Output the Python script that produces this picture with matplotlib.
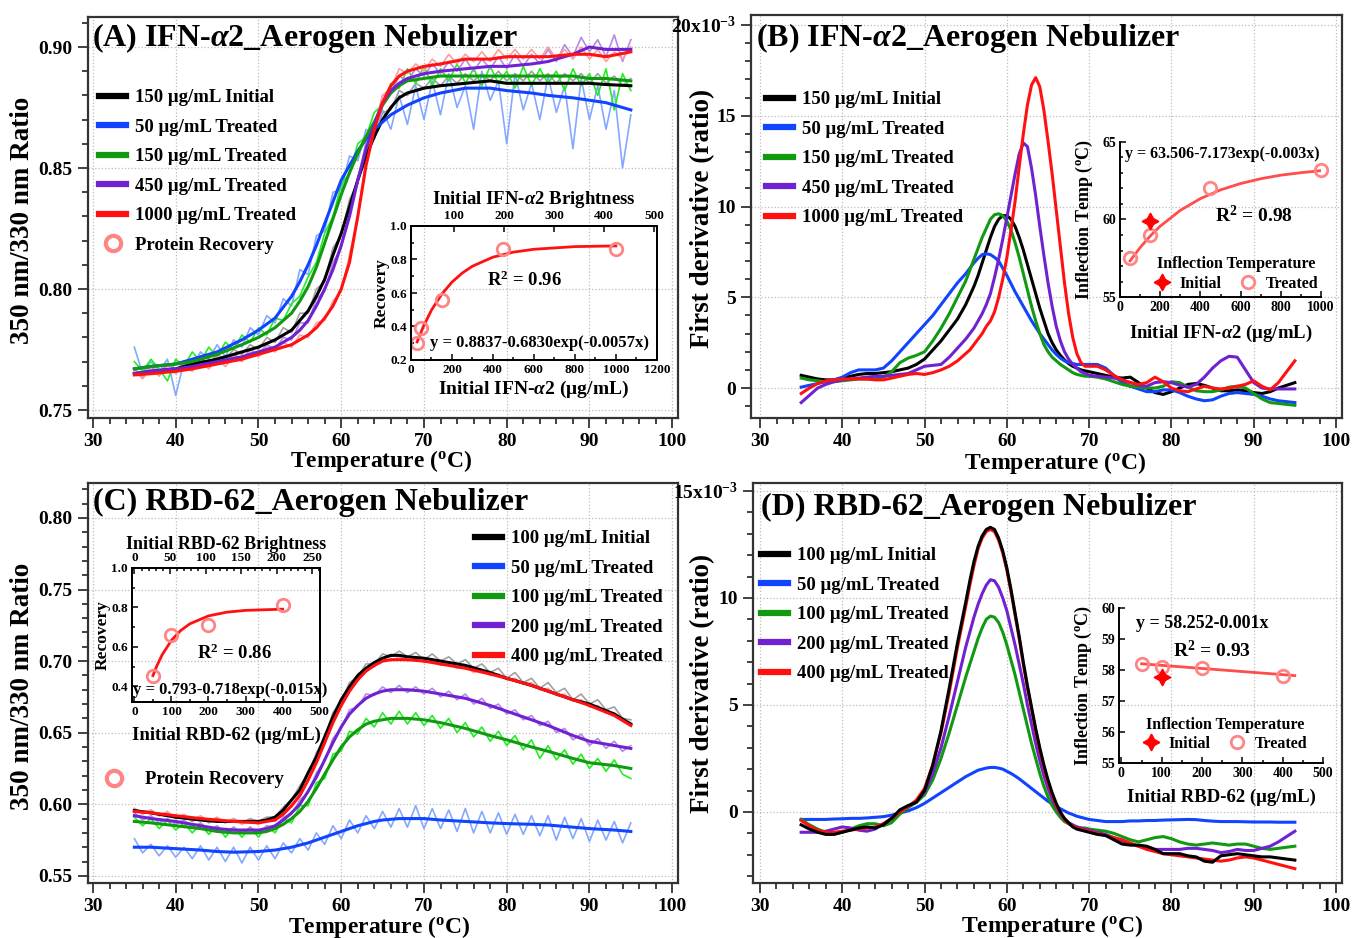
import numpy as np
import matplotlib
matplotlib.use("Agg")
import matplotlib.pyplot as plt
from matplotlib.lines import Line2D
from matplotlib.ticker import MultipleLocator

plt.rcParams["font.family"] = ["Liberation Serif", "DejaVu Serif"]
plt.rcParams["font.weight"] = "bold"
plt.rcParams["axes.labelweight"] = "bold"
plt.rcParams["mathtext.fontset"] = "custom"
plt.rcParams["mathtext.rm"] = "Liberation Serif:bold"
plt.rcParams["mathtext.it"] = "Liberation Serif:italic:bold"
plt.rcParams["mathtext.bf"] = "Liberation Serif:bold"

# ---------------------------------------------------------------- data
# temperature grids (degC)
t_raw = np.arange(35, 96)
t_ratio_a = [35, 37, 40, 42, 45, 48, 50, 52, 54, 55, 56, 57, 58, 59, 60, 61, 62,
             63, 64, 65, 66, 67, 68, 70, 72, 75, 78, 80, 83, 85, 88, 90, 92, 95]
t_ratio_c = [35, 37, 40, 43, 45, 47, 50, 51, 52, 53, 54, 55, 56, 57, 58, 59, 60, 61,
             62, 63, 64, 65, 66, 67, 68, 70, 72, 75, 78, 80, 83, 85, 88, 90, 93, 95]
t_deriv = np.concatenate([np.arange(35, 55), np.arange(55, 70.5, 0.5), np.arange(71, 96)])

labels_a = ["150 μg/mL Initial", "50 μg/mL Treated", "150 μg/mL Treated",
            "450 μg/mL Treated", "1000 μg/mL Treated"]
labels_c = ["100 μg/mL Initial", "50 μg/mL Treated", "100 μg/mL Treated",
            "200 μg/mL Treated", "400 μg/mL Treated"]

# (A) IFN-a2 350/330 ratio, smoothed
a_black = [.765, .766, .767, .769, .771, .774, .776, .779, .783,
           .787, .791, .797, .804, .814, .823, .834, .845, .855, .863, .870, .875, .879, .881,
           .883, .884, .885, .886, .885, .885, .885, .885, .885, .8845, .884]
a_blue = [.767, .768, .769, .771, .774, .779, .783, .788, .797,
          .803, .810, .818, .827, .836, .845, .851, .857, .862, .866, .869, .872, .874, .876,
          .879, .881, .883, .883, .882, .881, .880, .879, .878, .877, .874]
a_green = [.767, .768, .769, .770, .773, .777, .780, .784, .790,
           .795, .801, .809, .819, .829, .839, .848, .856, .863, .869, .876, .881, .884, .886,
           .887, .888, .888, .888, .888, .888, .888, .888, .887, .887, .886]
a_purple = [.765, .766, .767, .768, .770, .772, .774, .776, .780,
            .783, .787, .793, .800, .808, .818, .830, .845, .858, .868, .877, .882, .885, .887,
            .889, .890, .891, .892, .892, .893, .894, .897, .900, .899, .899]
a_red = [.7645, .765, .766, .767, .769, .771, .773, .775, .777,
         .779, .781, .784, .788, .793, .800, .811, .830, .851, .866, .877, .884, .888, .890,
         .892, .893, .895, .895, .896, .896, .896, .897, .897, .896, .898]

# (A) raw traces, 35..95 degC
a_gray_raw = [.767, .763, .768, .765, .769, .766, .770, .768, .772, .769,
              .773, .771, .775, .773, .777, .775, .780, .778, .784, .782,
              .790, .790, .800, .803, .817, .822, .837, .844, .858, .862,
              .873, .874, .882, .880, .885, .883, .887, .884, .888, .885,
              .889, .886, .889, .886, .890, .886, .889, .886, .890, .886,
              .889, .885, .889, .886, .889, .885, .889, .885, .888, .884, .887]
a_blue_raw = [.776, .765, .770, .766, .771, .756, .770, .768, .774, .771,
              .777, .772, .779, .776, .784, .781, .789, .786, .796, .793,
              .808, .806, .822, .824, .840, .841, .855, .853, .866, .862,
              .874, .866, .880, .868, .884, .870, .886, .872, .889, .875,
              .884, .866, .890, .878, .886, .860, .889, .874, .885, .870,
              .888, .873, .884, .858, .887, .870, .884, .866, .882, .850, .872]
a_green_raw = [.770, .766, .771, .767, .762, .771, .768, .774, .770, .776,
               .772, .778, .775, .781, .778, .784, .781, .788, .787, .794,
               .797, .805, .811, .823, .830, .843, .848, .860, .863, .873,
               .876, .885, .883, .891, .885, .892, .884, .891, .886, .893,
               .885, .891, .884, .892, .885, .890, .883, .892, .884, .891,
               .885, .890, .882, .891, .884, .889, .880, .891, .874, .889, .882]
a_purple_raw = [.767, .764, .768, .765, .769, .766, .769, .767, .771, .768,
                .772, .770, .773, .771, .775, .773, .777, .775, .780, .779,
                .786, .786, .796, .799, .811, .817, .833, .844, .861, .867,
                .880, .881, .888, .886, .891, .888, .893, .889, .894, .890,
                .895, .890, .895, .891, .896, .891, .897, .892, .897, .893,
                .899, .894, .901, .896, .904, .898, .903, .896, .905, .894, .903]
a_red_raw = [.766, .763, .767, .764, .768, .765, .768, .766, .770, .767,
             .771, .768, .772, .770, .774, .772, .776, .774, .778, .776,
             .781, .780, .786, .787, .795, .799, .814, .829, .854, .865,
             .880, .883, .891, .889, .893, .890, .895, .892, .897, .893,
             .897, .894, .898, .894, .899, .895, .899, .895, .899, .895,
             .900, .895, .899, .895, .900, .895, .899, .894, .898, .895, .900]

# (A) inset: protein recovery
rec_a_x = [30, 50, 150, 450, 1000]
rec_a_y = [0.30, 0.39, 0.56, 0.865, 0.865]
fit_a_x = [30, 60, 100, 150, 200, 250, 300, 400, 500, 600, 800, 1000]
fit_a_y = [0.308, 0.399, 0.498, 0.593, 0.665, 0.719, 0.760, 0.814, 0.844, 0.861, 0.877, 0.881]

# (B) IFN-a2 first derivative (x1e-3)
b_black = [0.7, 0.6, 0.5, 0.45, 0.45, 0.55, 0.65, 0.75, 0.8, 0.8, 0.85, 0.9, 1.0, 1.1, 1.3, 1.6, 2.1, 2.6, 3.2, 3.8,
           4.6, 5.1, 5.6, 6.2, 6.9, 7.6, 8.3, 8.9, 9.3, 9.5, 9.5, 9.3, 8.9, 8.3, 7.6, 6.8, 6.0, 5.2, 4.4, 3.7,
           3.0, 2.5, 2.1, 1.8, 1.55, 1.35, 1.2, 1.1, 1.0, 0.95, 0.9,
           0.8, 0.7, 0.6, 0.55, 0.6, 0.3, 0.0, -0.25, -0.35, -0.2, 0.0, 0.2, 0.25, 0.15, 0.0, -0.15, -0.15,
           -0.1, -0.15, -0.25, -0.3, -0.2, 0.0, 0.15, 0.3]
b_blue = [0.05, 0.15, 0.25, 0.35, 0.45, 0.6, 0.85, 1.0, 1.0, 1.0, 1.1, 1.5, 2.0, 2.5, 3.0, 3.5, 4.0, 4.6, 5.2, 5.8,
          6.3, 6.6, 6.9, 7.15, 7.35, 7.4, 7.35, 7.2, 7.0, 6.6, 6.2, 5.75, 5.3, 4.9, 4.5, 4.1, 3.7, 3.35, 3.0, 2.7,
          2.4, 2.1, 1.85, 1.65, 1.5, 1.4, 1.35, 1.3, 1.3, 1.3, 1.3,
          1.3, 1.1, 0.7, 0.3, 0.1, -0.05, -0.2, -0.2, -0.1, -0.1, -0.25, -0.45, -0.6, -0.7, -0.65, -0.45, -0.3,
          -0.25, -0.3, -0.35, -0.45, -0.6, -0.7, -0.75, -0.8]
b_green = [0.55, 0.45, 0.4, 0.35, 0.35, 0.4, 0.45, 0.5, 0.5, 0.5, 0.6, 0.9, 1.4, 1.65, 1.8, 2.0, 2.6, 3.3, 4.1, 5.0,
           5.9, 6.5, 7.1, 7.7, 8.3, 8.8, 9.3, 9.55, 9.6, 9.5, 9.2, 8.7, 8.0, 7.2, 6.3, 5.4, 4.5, 3.7, 3.0, 2.4,
           2.0, 1.7, 1.5, 1.3, 1.15, 1.0, 0.85, 0.75, 0.7, 0.65, 0.65,
           0.6, 0.5, 0.35, 0.2, 0.1, 0.05, 0.0, 0.0, 0.1, 0.35, 0.3, 0.05, -0.15, -0.2, -0.2, -0.1, 0.05,
           0.1, 0.0, -0.3, -0.6, -0.8, -0.85, -0.9, -0.95]
b_purple = [-0.8, -0.4, 0.0, 0.2, 0.35, 0.45, 0.5, 0.55, 0.6, 0.65, 0.65, 0.7, 0.75, 0.8, 1.0, 1.2, 1.25, 1.3, 1.7, 2.2,
            2.7, 3.0, 3.3, 3.7, 4.1, 4.6, 5.2, 6.1, 7.1, 8.2, 9.4, 10.6, 11.8, 12.9, 13.5, 13.3, 12.1, 10.6, 8.9, 7.3,
            5.8, 4.5, 3.4, 2.6, 2.0, 1.6, 1.3, 1.1, 0.9, 0.8, 0.7,
            0.65, 0.6, 0.55, 0.45, 0.3, 0.15, 0.1, 0.3, 0.35, 0.3, 0.15, 0.05, 0.2, 0.6, 1.1, 1.5, 1.75,
            1.7, 1.0, 0.3, 0.0, -0.05, -0.05, -0.05, -0.05]
b_red = [-0.3, 0.0, 0.25, 0.4, 0.45, 0.5, 0.5, 0.5, 0.5, 0.45, 0.45, 0.55, 0.65, 0.75, 0.8, 0.75, 0.85, 1.0, 1.2, 1.5,
         1.9, 2.1, 2.4, 2.7, 3.0, 3.4, 3.7, 4.2, 5.0, 6.0, 7.2, 8.7, 10.3, 12.2, 14.0, 15.6, 16.7, 17.1, 16.6, 15.3,
         13.6, 11.8, 9.8, 7.8, 5.8, 4.1, 2.8, 1.9, 1.4, 1.2, 1.2,
         1.2, 1.0, 0.7, 0.45, 0.3, 0.2, 0.3, 0.6, 0.35, 0.0, -0.15, -0.2, -0.05, 0.1, 0.0, -0.05, 0.0,
         0.1, 0.2, 0.4, 0.1, -0.1, 0.3, 0.9, 1.5]

# (B) inset: inflection temperature
tm_b_x = [50, 150, 450, 1000]
tm_b_y = [57.5, 59.0, 62.0, 63.2]
tm_b_init_x = [150]
tm_b_init_y = [59.9]
fit_b_x = [50, 100, 150, 200, 300, 400, 500, 600, 700, 800, 900, 1000]
fit_b_y = [57.33, 58.19, 58.93, 59.57, 60.59, 61.35, 61.91, 62.32, 62.63, 62.86, 63.02, 63.15]

# (C) RBD-62 350/330 ratio, smoothed
c_black = [.5956, .594, .591, .589, .588, .588, .588,
           .589, .591, .596, .603, .610, .622, .633, .647, .661, .673, .682, .690, .695, .699, .702, .704, .704, .703,
           .702, .700, .697, .692, .688, .683, .679, .673, .670, .663, .656]
c_blue = [.570, .570, .569, .568, .567, .5665, .567,
          .5675, .568, .569, .570, .5715, .573, .575, .577, .579, .581, .583, .585, .5865, .588, .589, .5895, .590, .590,
          .590, .589, .588, .587, .5865, .586, .5855, .584, .583, .582, .581]
c_green = [.588, .587, .585, .583, .581, .580, .580,
           .581, .583, .586, .590, .595, .602, .611, .621, .631, .640, .647, .652, .656, .658, .659, .660, .660, .660,
           .659, .657, .653, .648, .645, .640, .637, .632, .629, .627, .625]
c_purple = [.592, .590, .588, .585, .583, .582, .582,
            .583, .585, .589, .594, .600, .609, .619, .631, .643, .654, .663, .669, .674, .677, .679, .680, .680, .680,
            .679, .677, .674, .669, .665, .659, .655, .648, .644, .641, .639]
c_red = [.595, .594, .592, .590, .589, .588, .587,
         .588, .589, .593, .599, .606, .617, .629, .643, .657, .669, .679, .687, .693, .697, .700, .701, .701, .701,
         .700, .698, .695, .691, .688, .683, .679, .673, .669, .662, .655]

# (C) raw traces, 35..95 degC
c_gray_raw = [.597, .594, .596, .592, .594, .590, .592, .588, .591, .587,
              .590, .587, .590, .587, .590, .588, .591, .591, .598, .603,
              .613, .621, .636, .646, .664, .672, .685, .689, .698, .698,
              .705, .703, .707, .703, .706, .701, .705, .700, .703, .698,
              .701, .695, .698, .692, .695, .688, .692, .685, .688, .681,
              .685, .678, .681, .673, .677, .670, .673, .666, .668, .660, .659]
c_blue_raw = [.576, .566, .572, .564, .571, .563, .570, .562, .571, .561,
              .570, .560, .570, .559, .570, .561, .571, .562, .573, .566,
              .576, .568, .580, .572, .585, .576, .589, .580, .592, .583,
              .595, .584, .597, .584, .599, .583, .597, .583, .596, .581,
              .597, .580, .595, .580, .594, .579, .593, .579, .592, .578,
              .592, .575, .591, .576, .590, .574, .589, .575, .588, .573, .587]
c_green_raw = [.591, .585, .590, .583, .589, .582, .587, .580, .586, .579,
               .585, .577, .584, .577, .584, .577, .585, .580, .590, .587,
               .599, .599, .615, .618, .635, .637, .651, .649, .660, .654,
               .664, .656, .665, .656, .664, .655, .662, .653, .660, .650,
               .657, .647, .654, .644, .651, .641, .648, .638, .645, .632,
               .641, .631, .638, .628, .635, .625, .632, .623, .631, .621, .618]
c_purple_raw = [.594, .589, .592, .587, .590, .586, .589, .584, .587, .582,
                .585, .580, .584, .580, .584, .580, .585, .584, .591, .593,
                .603, .608, .622, .630, .646, .653, .666, .668, .677, .676,
                .682, .678, .683, .678, .682, .677, .681, .675, .679, .673,
                .677, .670, .674, .667, .670, .663, .666, .659, .662, .655,
                .658, .650, .653, .645, .649, .641, .646, .639, .644, .637, .641]
c_red_raw = [.597, .593, .596, .592, .595, .590, .593, .589, .592, .588,
             .591, .587, .590, .586, .589, .586, .590, .588, .595, .598,
             .608, .616, .631, .642, .659, .668, .681, .686, .695, .696,
             .702, .700, .703, .700, .702, .699, .701, .697, .699, .695,
             .697, .692, .694, .690, .691, .687, .688, .684, .685, .680,
             .681, .676, .677, .672, .673, .668, .669, .664, .664, .658, .657]

# (C) inset: protein recovery
rec_c_x = [50, 100, 200, 400]
rec_c_y = [0.45, 0.66, 0.71, 0.81]
fit_c_x = [50, 60, 75, 100, 125, 150, 200, 250, 300, 400]
fit_c_y = [0.454, 0.501, 0.560, 0.633, 0.683, 0.717, 0.757, 0.776, 0.785, 0.791]

# (D) RBD-62 first derivative (x1e-3)
d_black = [-0.6, -0.8, -0.95, -1.05, -1.05, -0.95, -0.85, -0.75, -0.7, -0.75, -0.6, -0.3, 0.1, 0.3, 0.45, 1.0, 2.2, 3.8, 5.8, 7.9,
           9.8, 10.8, 11.7, 12.4, 12.9, 13.2, 13.3, 13.2, 12.8, 12.2, 11.4, 10.4, 9.3, 8.2, 7.0, 5.9, 4.9, 3.9, 3.0, 2.2,
           1.5, 0.9, 0.4, 0.0, -0.3, -0.5, -0.7, -0.8, -0.85, -0.9, -0.95,
           -1.05, -1.1, -1.3, -1.5, -1.55, -1.55, -1.6, -1.75, -1.95, -1.95, -1.95, -2.05, -2.1, -2.3, -2.35, -2.05,
           -2.0, -1.95, -2.0, -2.05, -2.1, -2.1, -2.15, -2.2, -2.25]
d_blue = [-0.35, -0.35, -0.35, -0.35, -0.33, -0.32, -0.3, -0.3, -0.28, -0.25, -0.22, -0.15, -0.05, 0.05, 0.2, 0.4, 0.65, 0.9, 1.15, 1.4,
          1.65, 1.75, 1.85, 1.95, 2.0, 2.05, 2.08, 2.08, 2.05, 2.0, 1.9, 1.8, 1.68, 1.55, 1.4, 1.25, 1.1, 0.95, 0.8, 0.65,
          0.5, 0.38, 0.25, 0.15, 0.05, -0.05, -0.12, -0.2, -0.25, -0.3, -0.35,
          -0.4, -0.45, -0.45, -0.45, -0.42, -0.42, -0.4, -0.4, -0.38, -0.37, -0.36, -0.35, -0.36, -0.4, -0.43, -0.45,
          -0.45, -0.45, -0.46, -0.47, -0.47, -0.47, -0.48, -0.48, -0.48]
d_green = [-0.35, -0.6, -0.8, -0.95, -1.0, -0.95, -0.8, -0.65, -0.55, -0.55, -0.65, -0.5, -0.1, 0.2, 0.45, 0.8, 1.5, 2.5, 3.7, 5.0,
           6.3, 6.9, 7.5, 8.1, 8.6, 9.0, 9.15, 9.1, 8.85, 8.4, 7.8, 7.1, 6.4, 5.6, 4.8, 4.0, 3.2, 2.5, 1.8, 1.2,
           0.7, 0.3, 0.0, -0.25, -0.45, -0.55, -0.65, -0.7, -0.75, -0.75, -0.8,
           -0.85, -0.9, -1.0, -1.15, -1.3, -1.4, -1.3, -1.2, -1.15, -1.25, -1.4, -1.5, -1.55, -1.5, -1.45, -1.5,
           -1.55, -1.5, -1.5, -1.6, -1.7, -1.75, -1.7, -1.65, -1.6]
d_purple = [-0.95, -0.95, -0.95, -0.9, -0.8, -0.7, -0.75, -0.85, -0.9, -0.8, -0.55, -0.3, 0.0, 0.25, 0.5, 0.9, 1.8, 3.0, 4.5, 6.1,
            7.7, 8.4, 9.1, 9.7, 10.2, 10.6, 10.85, 10.8, 10.5, 10.0, 9.4, 8.6, 7.8, 6.9, 6.0, 5.0, 4.1, 3.2, 2.4, 1.7,
            1.1, 0.6, 0.2, -0.1, -0.35, -0.5, -0.6, -0.7, -0.75, -0.8, -0.85,
            -0.95, -1.05, -1.2, -1.35, -1.5, -1.6, -1.7, -1.75, -1.75, -1.75, -1.75, -1.7, -1.7, -1.75, -1.8, -1.9,
            -1.85, -1.75, -1.8, -1.8, -1.7, -1.6, -1.4, -1.15, -0.9]
d_red = [-0.4, -0.65, -0.85, -0.95, -0.95, -0.9, -0.85, -0.8, -0.75, -0.7, -0.55, -0.3, 0.0, 0.25, 0.55, 1.1, 2.2, 3.7, 5.6, 7.7,
         9.6, 10.6, 11.5, 12.3, 12.8, 13.1, 13.2, 13.1, 12.7, 12.1, 11.3, 10.3, 9.2, 8.1, 6.9, 5.8, 4.8, 3.8, 2.9, 2.1,
         1.4, 0.8, 0.3, -0.05, -0.35, -0.55, -0.65, -0.75, -0.8, -0.85, -0.9,
         -1.0, -1.1, -1.2, -1.3, -1.45, -1.6, -1.75, -1.85, -1.95, -2.0, -2.05, -2.1, -2.15, -2.2, -2.25, -2.3,
         -2.25, -2.15, -2.1, -2.15, -2.25, -2.35, -2.45, -2.55, -2.65]

# (D) inset: inflection temperature
tm_d_x = [50, 100, 200, 400]
tm_d_y = [58.2, 58.1, 58.08, 57.8]
tm_d_init_x = [100]
tm_d_init_y = [57.78]
fit_d_x = [50, 430]
fit_d_y = [58.20, 57.82]

# ---------------------------------------------------------------- style
BLACK, BLUE, GREEN, PURPLE, RED = "#000000", "#1144ff", "#119911", "#7022d0", "#ff1111"
GRAY, LBLUE, LGREEN, LPURPLE, LRED = "#a0a0a0", "#84a8ff", "#22ee22", "#b48ae6", "#ff9c9c"
PINK = "#ff8585"
FIT_RED = "#ff4d4d"
main_colors = [BLACK, BLUE, GREEN, PURPLE, RED]

W, H = 1352, 938
fig = plt.figure(figsize=(W / 100, H / 100), dpi=100)


def box(left, top, right, bottom):
    return [left / W, 1 - bottom / H, (right - left) / W, (bottom - top) / H]


def ftext(x, y, s, **kw):
    fig.text(x / W, 1 - y / H, s, **kw)


def style_main(ax, xlim, ylim, yticks, ylabels, yminor):
    ax.set_xlim(xlim)
    ax.set_ylim(ylim)
    ax.set_xticks(np.arange(30, 101, 10))
    ax.xaxis.set_minor_locator(MultipleLocator(2))
    ax.set_yticks(yticks)
    ax.set_yticklabels(ylabels)
    ax.yaxis.set_minor_locator(MultipleLocator(yminor))
    ax.tick_params(which="both", direction="out", width=1.3, color="#333333", labelsize=14)
    ax.tick_params(which="major", length=7, pad=4)
    ax.tick_params(which="minor", length=4)
    ax.grid(True, which="major", ls=":", lw=0.9, color="#bdbdbd")
    ax.set_axisbelow(True)
    for sp in ax.spines.values():
        sp.set_linewidth(1.6)
        sp.set_color("#333333")


def style_inset(ax, full_box=True):
    ax.set_facecolor("none")
    ax.tick_params(which="both", direction="in", width=1.1, labelsize=9.5)
    ax.tick_params(which="major", length=4, pad=3)
    ax.tick_params(which="minor", length=2.5)
    for sp in ax.spines.values():
        sp.set_linewidth(1.4)
    if not full_box:
        ax.spines["top"].set_visible(False)
        ax.spines["right"].set_visible(False)


def main_legend(ax, labels, x, y, extra=None):
    handles = [Line2D([], [], color=c, lw=4.5) for c in main_colors]
    labs = list(labels)
    if extra is not None:
        handles.append(extra)
        labs.append("Protein Recovery")
    leg = ax.legend(handles, labs, loc="upper left", bbox_to_anchor=(x / W, 1 - y / H),
                    bbox_transform=fig.transFigure, frameon=False, fontsize=13.5,
                    handlelength=1.45, handletextpad=0.45, labelspacing=0.66,
                    borderpad=0, borderaxespad=0)
    return leg


rec_handle = Line2D([], [], ls="none", marker="o", ms=11, mfc="none", mec=PINK, mew=3)
star_handle = Line2D([], [], ls="none", marker=(4, 1, 0), ms=12, color="#ff0000")
circ_handle = Line2D([], [], ls="none", marker="o", ms=9, mfc="none", mec=PINK, mew=2)
temp_lbl = "Temperature ($^{\\rm o}$C)"

# ---------------------------------------------------------------- (A)
axA = fig.add_axes(box(88, 17, 678, 418))
for raw, col in zip([a_gray_raw, a_blue_raw, a_green_raw, a_purple_raw, a_red_raw],
                    [GRAY, LBLUE, LGREEN, LPURPLE, LRED]):
    axA.plot(t_raw, raw, color=col, lw=1.2)
for ys, col in zip([a_black, a_blue, a_green, a_purple, a_red], main_colors):
    axA.plot(t_ratio_a, ys, color=col, lw=2.2)
style_main(axA, (29.4, 100.7), (0.7467, 0.9124), [0.75, 0.80, 0.85, 0.90],
           ["0.75", "0.80", "0.85", "0.90"], 0.01)
main_legend(axA, labels_a, 99, 89, extra=rec_handle)

axAi = fig.add_axes(box(411, 226, 657, 360))
axAi.plot(fit_a_x, fit_a_y, color=RED, lw=2)
axAi.plot(rec_a_x, rec_a_y, ls="none", marker="o", ms=9, mfc="none", mec=PINK, mew=2, clip_on=False)
style_inset(axAi)
axAi.set_xlim(0, 1201)
axAi.set_ylim(0.2, 1.0)
axAi.set_xticks(np.arange(0, 1201, 200))
axAi.xaxis.set_minor_locator(MultipleLocator(100))
axAi.set_yticks([0.2, 0.4, 0.6, 0.8, 1.0])
axAi.set_yticklabels(["0.2", "0.4", "0.6", "0.8", "1.0"])
axAi.yaxis.set_minor_locator(MultipleLocator(0.1))
axAi.set_xlabel("Initial IFN-$\\alpha$2 (μg/mL)", fontsize=14, labelpad=2)
axAi.set_ylabel("Recovery", fontsize=12.5, labelpad=0)
axAi.text(0.463, 0.597, "R$^2$ = 0.96", transform=axAi.transAxes, ha="center", va="center", fontsize=13.5)
axAi.text(0.524, 0.127, "y = 0.8837-0.6830exp(-0.0057x)", transform=axAi.transAxes,
          ha="center", va="center", fontsize=12)
axAt = axAi.twiny()
axAt.set_xlim(14, 506)
axAt.set_xticks([100, 200, 300, 400, 500])
style_inset(axAt)
axAt.set_xlabel("Initial IFN-$\\alpha$2 Brightness", fontsize=13.5, labelpad=4)

# ---------------------------------------------------------------- (B)
axB = fig.add_axes(box(751, 15, 1342, 418))
for ys, col in zip([b_black, b_blue, b_green, b_purple, b_red], main_colors):
    axB.plot(t_deriv, ys, color=col, lw=2.2)
style_main(axB, (28.9, 100.73), (-1.65, 20.55), [0, 5, 10, 15, 20],
           ["0", "5", "10", "15", "20x10$^{-3}$"], 1)
main_legend(axB, labels_a, 766, 91)

axBi = fig.add_axes(box(1120, 142, 1321, 297))
axBi.plot(fit_b_x, fit_b_y, color=FIT_RED, lw=2)
axBi.plot(tm_b_x, tm_b_y, ls="none", marker="o", ms=9, mfc="none", mec=PINK, mew=2, clip_on=False)
axBi.plot(tm_b_init_x, tm_b_init_y, ls="none", marker=(4, 1, 0), ms=12, color="#ff0000")
style_inset(axBi, full_box=False)
axBi.set_xlim(0, 1000)
axBi.set_ylim(55, 65)
axBi.set_xticks(np.arange(0, 1001, 200))
axBi.xaxis.set_minor_locator(MultipleLocator(100))
axBi.set_yticks([55, 60, 65])
axBi.yaxis.set_minor_locator(MultipleLocator(1))
axBi.tick_params(labelsize=10)
axBi.set_xlabel("Initial IFN-$\\alpha$2 (μg/mL)", fontsize=13.5, labelpad=6)
axBi.set_ylabel("Inflection Temp ($^{\\rm o}$C)", fontsize=13, labelpad=5)
axBi.text(0.507, 0.923, "y = 63.506-7.173exp(-0.003x)", transform=axBi.transAxes,
          ha="center", va="center", fontsize=11.5)
axBi.text(0.667, 0.523, "R$^2$ = 0.98", transform=axBi.transAxes, ha="center", va="center", fontsize=14)
axBi.legend([star_handle, circ_handle], ["Initial", "Treated"], ncol=2, title="Inflection Temperature",
            title_fontsize=11.5, fontsize=11.5, loc="center", bbox_to_anchor=(0.577, 0.148),
            frameon=False, handlelength=1.0, handletextpad=0.6, columnspacing=1.2,
            borderpad=0, labelspacing=0.2)

# ---------------------------------------------------------------- (C)
axC = fig.add_axes(box(88, 483, 678, 883))
for raw, col in zip([c_gray_raw, c_blue_raw, c_green_raw, c_purple_raw, c_red_raw],
                    [GRAY, LBLUE, LGREEN, LPURPLE, LRED]):
    axC.plot(t_raw, raw, color=col, lw=1.2)
for ys, col in zip([c_black, c_blue, c_green, c_purple, c_red], main_colors):
    axC.plot(t_ratio_c, ys, color=col, lw=2.2)
style_main(axC, (29.4, 100.7), (0.545, 0.8244), [0.55, 0.60, 0.65, 0.70, 0.75, 0.80],
           ["0.55", "0.60", "0.65", "0.70", "0.75", "0.80"], 0.01)
legC = main_legend(axC, labels_c, 475, 530)
axC.add_artist(legC)
axC.legend([rec_handle], ["Protein Recovery"], loc="upper left", bbox_to_anchor=(100 / W, 1 - 771 / H),
           bbox_transform=fig.transFigure, frameon=False, fontsize=13.5, handlelength=1.45,
           handletextpad=0.95, borderpad=0, borderaxespad=0)

axCi = fig.add_axes(box(132, 568, 320, 702))
axCi.plot(fit_c_x, fit_c_y, color=RED, lw=2)
axCi.plot(rec_c_x, rec_c_y, ls="none", marker="o", ms=9, mfc="none", mec=PINK, mew=2, clip_on=False)
style_inset(axCi)
axCi.set_xlim(-6.5, 501)
axCi.set_ylim(0.32, 1.0)
axCi.set_xticks(np.arange(0, 501, 100))
axCi.xaxis.set_minor_locator(MultipleLocator(50))
axCi.set_yticks([0.4, 0.6, 0.8, 1.0])
axCi.set_yticklabels(["0.4", "0.6", "0.8", "1.0"])
axCi.yaxis.set_minor_locator(MultipleLocator(0.1))
axCi.set_xlabel("Initial RBD-62 (μg/mL)", fontsize=13.5, labelpad=6)
axCi.set_ylabel("Recovery", fontsize=12.5, labelpad=0)
axCi.text(0.543, 0.366, "R$^2$ = 0.86", transform=axCi.transAxes, ha="center", va="center", fontsize=13.5)
axCi.text(0.005, 0.09, "y = 0.793-0.718exp(-0.015x)", transform=axCi.transAxes,
          ha="left", va="center", fontsize=12)
axCt = axCi.twiny()
axCt.set_xlim(-3.4, 261)
axCt.set_xticks(np.arange(0, 251, 50))
axCt.xaxis.set_minor_locator(MultipleLocator(10))
style_inset(axCt)
axCt.set_xlabel("Initial RBD-62 Brightness", fontsize=13, labelpad=2)

# ---------------------------------------------------------------- (D)
axD = fig.add_axes(box(753, 483, 1342, 883))
for ys, col, z in zip([d_black, d_blue, d_green, d_purple, d_red], main_colors, [5, 2, 2, 2, 3]):
    axD.plot(t_deriv, ys, color=col, lw=2.2, zorder=z)
style_main(axD, (29.15, 100.73), (-3.32, 15.37), [0, 5, 10, 15],
           ["0", "5", "10", "15x10$^{-3}$"], 1)
main_legend(axD, labels_c, 761, 547)

axDi = fig.add_axes(box(1119, 608, 1323, 763))
axDi.plot(fit_d_x, fit_d_y, color=FIT_RED, lw=2)
axDi.plot(tm_d_x, tm_d_y, ls="none", marker="o", ms=9, mfc="none", mec=PINK, mew=2, clip_on=False)
axDi.plot(tm_d_init_x, tm_d_init_y, ls="none", marker=(4, 1, 0), ms=12, color="#ff0000")
style_inset(axDi, full_box=False)
axDi.set_xlim(-6, 500)
axDi.set_ylim(55, 60)
axDi.set_xticks(np.arange(0, 501, 100))
axDi.xaxis.set_minor_locator(MultipleLocator(50))
axDi.set_yticks([55, 56, 57, 58, 59, 60])
axDi.tick_params(labelsize=10)
axDi.set_xlabel("Initial RBD-62 (μg/mL)", fontsize=13.5, labelpad=6)
axDi.set_ylabel("Inflection Temp ($^{\\rm o}$C)", fontsize=13, labelpad=5)
axDi.text(0.406, 0.897, "y = 58.252-0.001x", transform=axDi.transAxes, ha="center", va="center", fontsize=13)
axDi.text(0.455, 0.729, "R$^2$ = 0.93", transform=axDi.transAxes, ha="center", va="center", fontsize=14)
axDi.legend([star_handle, circ_handle], ["Initial", "Treated"], ncol=2, title="Inflection Temperature",
            title_fontsize=11.5, fontsize=11.5, loc="center", bbox_to_anchor=(0.52, 0.184),
            frameon=False, handlelength=1.0, handletextpad=0.6, columnspacing=1.2,
            borderpad=0, labelspacing=0.2)

# ---------------------------------------------------------------- titles and axis labels
ftext(92, 38, "(A) IFN-$\\alpha$2_Aerogen Nebulizer", fontsize=23, ha="left", va="center")
ftext(756, 38, "(B) IFN-$\\alpha$2_Aerogen Nebulizer", fontsize=23, ha="left", va="center")
ftext(93, 502, "(C) RBD-62_Aerogen Nebulizer", fontsize=23, ha="left", va="center")
ftext(761, 507, "(D) RBD-62_Aerogen Nebulizer", fontsize=23, ha="left", va="center")

ftext(23, 220, "350 nm/330 nm Ratio", fontsize=19.5, rotation=90, ha="center", va="center")
ftext(703, 218, "First derivative (ratio)", fontsize=19.5, rotation=90, ha="center", va="center")
ftext(23, 686, "350 nm/330 nm Ratio", fontsize=19.5, rotation=90, ha="center", va="center")
ftext(703, 683, "First derivative (ratio)", fontsize=19.5, rotation=90, ha="center", va="center")

ftext(381, 461, temp_lbl, fontsize=17, ha="center", va="center")
ftext(1055, 463, temp_lbl, fontsize=17, ha="center", va="center")
ftext(379, 927, temp_lbl, fontsize=17, ha="center", va="center")
ftext(1052, 926, temp_lbl, fontsize=17, ha="center", va="center")

fig.savefig("out.png", dpi=100)
